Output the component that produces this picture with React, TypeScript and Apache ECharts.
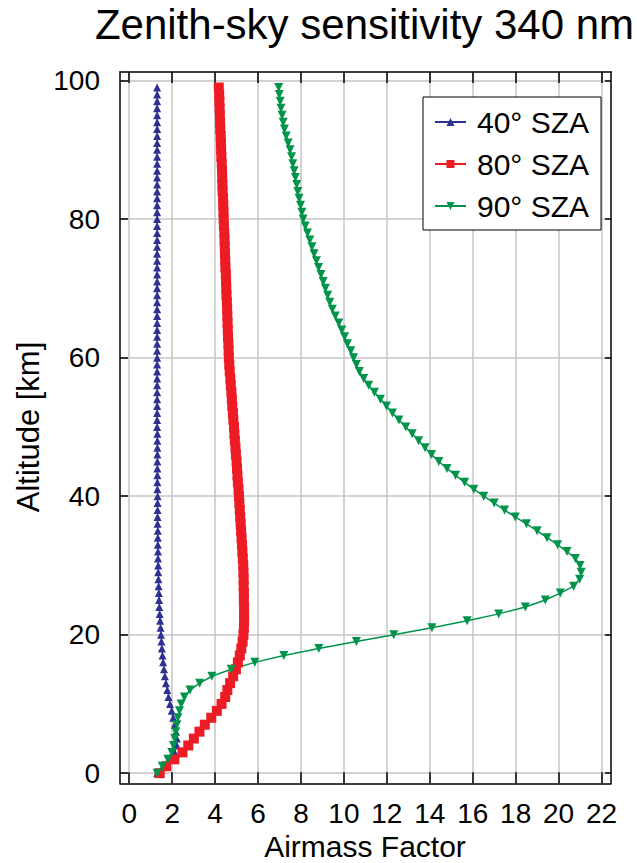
import React, { useEffect, useRef } from "react";
import * as echarts from "echarts";

const altitudes = [
  0, 1, 2, 3, 4, 5, 6, 7, 8, 9, 10, 11, 12, 13, 14, 15, 16, 17, 18, 19,
  20, 21, 22, 23, 24, 25, 26, 27, 28, 29, 30, 31, 32, 33, 34, 35, 36, 37, 38, 39,
  40, 41, 42, 43, 44, 45, 46, 47, 48, 49, 50, 51, 52, 53, 54, 55, 56, 57, 58, 59,
  60, 61, 62, 63, 64, 65, 66, 67, 68, 69, 70, 71, 72, 73, 74, 75, 76, 77, 78, 79,
  80, 81, 82, 83, 84, 85, 86, 87, 88, 89, 90, 91, 92, 93, 94, 95, 96, 97, 98, 99,
];

const amf40 = [
  1.3, 1.6, 1.9, 2.12, 2.22, 2.22, 2.18, 2.12, 2.05, 1.98,
  1.9, 1.83, 1.77, 1.71, 1.66, 1.62, 1.58, 1.55, 1.52, 1.5,
  1.48, 1.46, 1.44, 1.42, 1.4, 1.39, 1.38, 1.37, 1.36, 1.35,
  1.35, 1.34, 1.34, 1.33, 1.33, 1.33, 1.32, 1.32, 1.32, 1.32,
  1.32, 1.31, 1.31, 1.31, 1.31, 1.31, 1.31, 1.31, 1.31, 1.31,
  1.3, 1.3, 1.3, 1.3, 1.3, 1.3, 1.3, 1.3, 1.3, 1.3,
  1.3, 1.3, 1.3, 1.3, 1.3, 1.3, 1.3, 1.3, 1.3, 1.3,
  1.3, 1.3, 1.3, 1.3, 1.3, 1.3, 1.3, 1.3, 1.3, 1.3,
  1.3, 1.3, 1.3, 1.3, 1.3, 1.3, 1.3, 1.3, 1.3, 1.3,
  1.3, 1.3, 1.3, 1.3, 1.3, 1.3, 1.3, 1.3, 1.3, 1.3,
];

const amf80 = [
  1.42, 1.72, 2.1, 2.48, 2.75, 3.01, 3.27, 3.52, 3.82, 4.08,
  4.3, 4.47, 4.57, 4.7, 4.84, 4.97, 5.06, 5.15, 5.22, 5.28,
  5.32, 5.34, 5.35, 5.35, 5.35, 5.34, 5.34, 5.33, 5.33, 5.32,
  5.31, 5.29, 5.27, 5.25, 5.23, 5.21, 5.19, 5.17, 5.15, 5.13,
  5.11, 5.09, 5.06, 5.04, 5.02, 5.0, 4.97, 4.95, 4.92, 4.9,
  4.88, 4.85, 4.83, 4.8, 4.78, 4.76, 4.73, 4.71, 4.68, 4.66,
  4.64, 4.63, 4.62, 4.6, 4.59, 4.58, 4.57, 4.56, 4.55, 4.53,
  4.52, 4.51, 4.5, 4.48, 4.47, 4.46, 4.45, 4.44, 4.43, 4.41,
  4.4, 4.39, 4.38, 4.37, 4.35, 4.34, 4.33, 4.32, 4.31, 4.29,
  4.28, 4.27, 4.26, 4.24, 4.23, 4.22, 4.21, 4.2, 4.19, 4.17,
];

const amf90 = [
  1.3, 1.54, 1.8, 1.98, 2.06, 2.12, 2.17, 2.22, 2.27, 2.34,
  2.42, 2.57, 2.83, 3.28, 3.85, 4.75, 5.85, 7.2, 8.83, 10.58,
  12.32, 14.1, 15.74, 17.21, 18.45, 19.38, 20.08, 20.7, 20.98, 21.05,
  21.0, 20.78, 20.39, 19.95, 19.46, 19.0, 18.5, 17.98, 17.48, 17.0,
  16.51, 16.05, 15.62, 15.2, 14.8, 14.42, 14.08, 13.78, 13.48, 13.18,
  12.88, 12.56, 12.26, 11.98, 11.7, 11.42, 11.15, 10.92, 10.72, 10.58,
  10.45, 10.32, 10.16, 10.03, 9.9, 9.76, 9.6, 9.46, 9.34, 9.24,
  9.14, 9.03, 8.93, 8.82, 8.72, 8.61, 8.51, 8.41, 8.3, 8.2,
  8.1, 8.04, 7.98, 7.91, 7.85, 7.8, 7.74, 7.68, 7.62, 7.56,
  7.49, 7.4, 7.31, 7.23, 7.17, 7.12, 7.07, 7.03, 6.99, 6.96,
];

const seriesNames = ["40° SZA", "80° SZA", "90° SZA"];
const xTicks = [0, 2, 4, 6, 8, 10, 12, 14, 16, 18, 20, 22];
const yTicks = [0, 20, 40, 60, 80, 100];

const FONT = "Liberation Sans, Arial, Helvetica, sans-serif";

function pairs(xs: number[]) {
  return xs.map((v, i) => [v, altitudes[i]]);
}

export default function App() {
  const ref = useRef<HTMLDivElement>(null);
  useEffect(() => {
    if (!ref.current) return;
    const chart = echarts.init(ref.current, undefined, { renderer: "svg" });
    const axisLine = { show: true, onZero: false, lineStyle: { color: "#000", width: 1.5 } };
    const option: any = {
      animation: false,
      backgroundColor: "#fff",
      grid: { left: 120, top: 72, right: 26, bottom: 79.7, containLabel: false },
      legend: {
        orient: "vertical",
        left: 423,
        top: 97,
        backgroundColor: "#fff",
        borderColor: "#000",
        borderWidth: 1,
        borderRadius: 0,
        padding: [10, 12, 9, 11],
        itemGap: 12,
        itemWidth: 31,
        itemHeight: 10,
        textStyle: { fontFamily: FONT, fontSize: 30, color: "#000", padding: [0, 0, 0, 6] },
        data: seriesNames,
      },
      xAxis: [
        {
          type: "value",
          min: -0.43,
          max: 22.44,
          position: "bottom",
          axisLine,
          axisTick: { show: true, inside: true, length: 11, customValues: xTicks, lineStyle: { color: "#000", width: 1.5 } },
          axisLabel: { customValues: xTicks, fontFamily: FONT, fontSize: 28, color: "#000", margin: 16 },
          splitLine: { show: true, lineStyle: { color: "#c4c4c4", width: 1.5 } },
        },
        {
          type: "value",
          min: -0.43,
          max: 22.44,
          position: "top",
          axisLine,
          axisTick: { show: true, inside: true, length: 11, customValues: xTicks, lineStyle: { color: "#000", width: 1.5 } },
          axisLabel: { show: false, customValues: xTicks },
          splitLine: { show: false },
        },
      ],
      yAxis: [
        {
          type: "value",
          min: -1.46,
          max: 101.24,
          position: "left",
          axisLine,
          axisTick: { show: true, inside: true, length: 8, customValues: yTicks, lineStyle: { color: "#000", width: 1.5 } },
          axisLabel: { customValues: yTicks, fontFamily: FONT, fontSize: 28, color: "#000", margin: 20 },
          splitLine: { show: true, lineStyle: { color: "#c4c4c4", width: 1.5 } },
        },
        {
          type: "value",
          min: -1.46,
          max: 101.24,
          position: "right",
          axisLine,
          axisTick: { show: true, inside: true, length: 6, customValues: yTicks, lineStyle: { color: "#000", width: 1.5 } },
          axisLabel: { show: false, customValues: yTicks },
          splitLine: { show: false },
        },
      ],
      graphic: [
        {
          type: "text",
          x: 364.5,
          y: 3,
          style: {
            text: "Zenith-sky sensitivity 340 nm",
            fontFamily: FONT,
            fontSize: 42,
            fill: "#000",
            align: "center",
            verticalAlign: "top",
          },
        },
        {
          type: "text",
          x: 365,
          y: 846,
          style: {
            text: "Airmass Factor",
            fontFamily: FONT,
            fontSize: 30,
            fill: "#000",
            align: "center",
            verticalAlign: "middle",
          },
        },
        {
          type: "text",
          x: 28,
          y: 427,
          rotation: Math.PI / 2,
          style: {
            text: "Altitude [km]",
            fontFamily: FONT,
            fontSize: 31,
            fill: "#000",
            align: "center",
            verticalAlign: "middle",
          },
        },
      ],
      series: [
        {
          name: seriesNames[0],
          type: "line",
          data: pairs(amf40),
          symbol: "triangle",
          symbolSize: 8,
          showAllSymbol: true,
          color: "#2e3192",
          lineStyle: { width: 1, color: "#2e3192" },
          itemStyle: { color: "#2e3192" },
        },
        {
          name: seriesNames[1],
          type: "line",
          data: pairs(amf80),
          symbol: "rect",
          symbolSize: 10,
          showAllSymbol: true,
          color: "#ed1c24",
          lineStyle: { width: 1, color: "#ed1c24" },
          itemStyle: { color: "#ed1c24" },
        },
        {
          name: seriesNames[2],
          type: "line",
          data: pairs(amf90),
          symbol: "triangle",
          symbolRotate: 180,
          symbolSize: 9,
          showAllSymbol: true,
          color: "#00934a",
          lineStyle: { width: 1.5, color: "#00934a" },
          itemStyle: { color: "#00934a" },
        },
      ],
    };
    chart.setOption(option);
    return () => chart.dispose();
  }, []);
  return (
    <div
      ref={ref}
      style={{ position: "fixed", left: 0, top: 0, width: 637, height: 863, background: "#fff" }}
    />
  );
}
